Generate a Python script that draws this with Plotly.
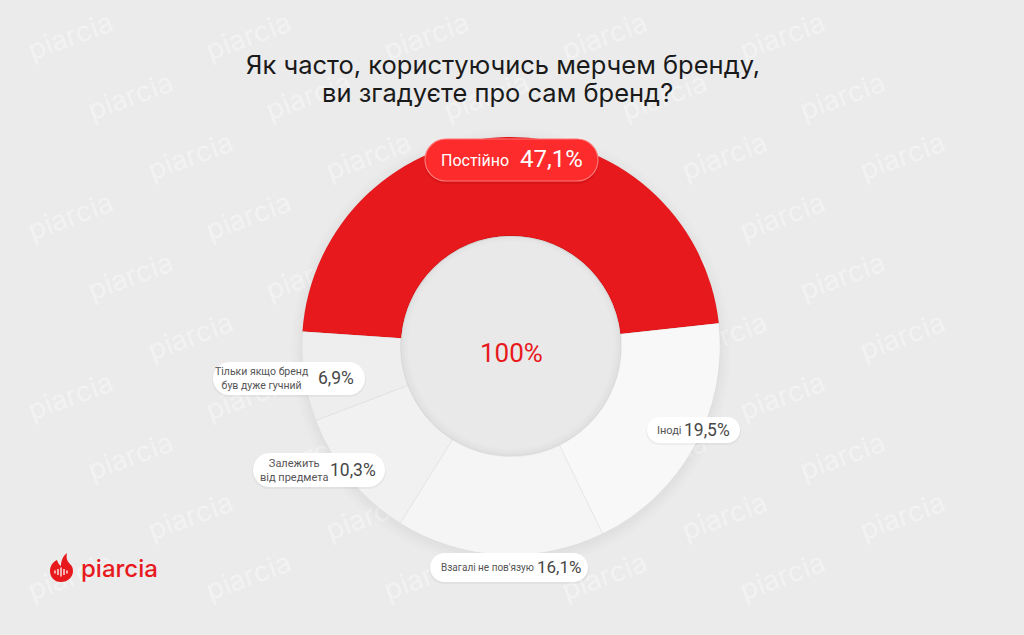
import plotly.graph_objects as go

# ---------------- data ----------------
title_lines = ["Як часто, користуючись мерчем бренду,", "ви згадуєте про сам бренд?"]
categories = ["Постійно", "Іноді", "Взагалі не пов'язую", "Залежить<br>від предмета",
              "Тільки якщо бренд<br>був дуже гучний"]
values = [47.1, 19.5, 16.1, 10.3, 6.9]
value_labels = ["47,1%", "19,5%", "16,1%", "10,3%", "6,9%"]
center_label = "100%"
brand = "piarcia"

# ---------------- styles / layout constants ----------------
W, H = 1024, 635
BG = "#ebebeb"
RED = "#e8191c"
slice_colors = [RED, "#f8f8f8", "#f5f5f5", "#f1f1f1", "#eeeeee"]
CX, CY, R_OUT, R_IN = 511, 346, 209, 110

# pill boxes (px): x0, y0, x1, y1 ; label anchor (x, y, xanchor) ; value right edge (x, y)
pills = [
    dict(box=(425, 139, 598, 181), lab=(439, 160, "left"), val=(585, 159), red=True, lsize=16, vsize=24),
    dict(box=(647, 417, 740, 443), lab=(655, 430, "left"), val=(732, 430), red=False, lsize=11, vsize=17.5),
    dict(box=(430, 553, 588, 582), lab=(439, 567, "left"), val=(583, 567), red=False, lsize=10, vsize=17),
    dict(box=(253, 453, 385, 487), lab=(294, 470, "center"), val=(378, 470), red=False, lsize=11, vsize=17.5),
    dict(box=(213, 362, 365, 395), lab=(262, 378, "center"), val=(356, 378), red=False, lsize=10.5, vsize=17.5),
]

FONT = "Roboto"


def px(x):
    return x / W


def py(y):
    return 1 - y / H


def pill_path(x0, y0, x1, y1):
    r = (y1 - y0) / 2
    k = 0.5523 * r
    cy = y0 + r
    pts = [
        ("M", [(x0 + r, y0)]),
        ("L", [(x1 - r, y0)]),
        ("C", [(x1 - r + k, y0), (x1, cy - k), (x1, cy)]),
        ("C", [(x1, cy + k), (x1 - r + k, y1), (x1 - r, y1)]),
        ("L", [(x0 + r, y1)]),
        ("C", [(x0 + r - k, y1), (x0, cy + k), (x0, cy)]),
        ("C", [(x0, cy - k), (x0 + r - k, y0), (x0 + r, y0)]),
    ]
    s = ""
    for cmd, ps in pts:
        s += cmd + " " + " ".join(f"{px(a):.5f},{py(b):.5f}" for a, b in ps) + " "
    return s + "Z"


fig = go.Figure()

fig.add_trace(go.Pie(
    labels=categories,
    values=values,
    sort=False,
    direction="clockwise",
    rotation=-86,
    hole=R_IN / R_OUT,
    marker=dict(colors=slice_colors, line=dict(color="rgba(0,0,0,0.035)", width=1)),
    textinfo="none",
    hoverinfo="none",
    showlegend=False,
    domain=dict(x=[px(CX - R_OUT), px(CX + R_OUT)], y=[py(CY + R_OUT), py(CY - R_OUT)]),
))

shapes = []
annotations = []

# watermark tiles (below everything), kept inside the canvas
for row in range(0, 11):
    for col in range(0, 6):
        x = col * 178 + (row % 3) * 60 + 70
        y = row * 60 + 35
        if x + 60 > W - 5 or y + 25 > H - 5:
            continue
        shapes.append(dict(
            type="rect", xref="paper", yref="paper", layer="below",
            x0=px(x - 60), x1=px(x + 60), y0=py(y + 20), y1=py(y - 20),
            line=dict(width=0), fillcolor="rgba(0,0,0,0)",
            label=dict(text=brand, textangle=-20,
                       font=dict(family="Inter", size=28, color="rgba(255,255,255,0.38)")),
        ))

# soft outer shadow of donut
for i, a in enumerate([0.012, 0.010, 0.008, 0.006]):
    rr = R_OUT + 2 + i * 3
    shapes.append(dict(type="circle", xref="paper", yref="paper", layer="below",
                       x0=px(CX - rr), x1=px(CX + rr), y0=py(CY + rr + 3), y1=py(CY - rr + 3),
                       fillcolor=f"rgba(0,0,0,{a})", line=dict(width=0)))

# inner hole shading
shapes.append(dict(type="circle", xref="paper", yref="paper",
                   x0=px(CX - R_IN), x1=px(CX + R_IN), y0=py(CY + R_IN), y1=py(CY - R_IN),
                   fillcolor="#e9e9e9", line=dict(color="rgba(0,0,0,0.05)", width=2)))
for i, a in enumerate([0.03, 0.02, 0.012]):
    rr = R_IN - 2 - i * 2
    shapes.append(dict(type="circle", xref="paper", yref="paper",
                       x0=px(CX - rr), x1=px(CX + rr), y0=py(CY + rr), y1=py(CY - rr - 2),
                       fillcolor="rgba(0,0,0,0)", line=dict(color=f"rgba(0,0,0,{a})", width=2)))

# pills + labels
for cat, val, p in zip(categories, value_labels, pills):
    x0, y0, x1, y1 = p["box"]
    if p["red"]:
        shapes.append(dict(type="path", xref="paper", yref="paper",
                           path=pill_path(x0 - 1, y0 + 1, x1 + 1, y1 + 3),
                           fillcolor="rgba(150,0,0,0.18)", line=dict(width=0)))
        shapes.append(dict(type="path", xref="paper", yref="paper", path=pill_path(x0, y0, x1, y1),
                           fillcolor="#fd2b2b", line=dict(color="#ff7a7a", width=1.2)))
        lc, vc = "#ffffff", "#ffffff"
    else:
        shapes.append(dict(type="path", xref="paper", yref="paper",
                           path=pill_path(x0 - 1, y0 + 1, x1 + 1, y1 + 2),
                           fillcolor="rgba(0,0,0,0.04)", line=dict(width=0)))
        shapes.append(dict(type="path", xref="paper", yref="paper", path=pill_path(x0, y0, x1, y1),
                           fillcolor="#ffffff", line=dict(width=0)))
        lc, vc = "#555555", "#474747"
    lx, ly, lalign = p["lab"]
    annotations.append(dict(text=cat, x=px(lx), y=py(ly), xref="paper", yref="paper",
                            xanchor=lalign, yanchor="middle", showarrow=False, align="center",
                            font=dict(family=FONT, size=p["lsize"], color=lc)))
    vx, vy = p["val"]
    annotations.append(dict(text=val, x=px(vx), y=py(vy), xref="paper", yref="paper",
                            xanchor="right", yanchor="middle", showarrow=False,
                            font=dict(family=FONT, size=p["vsize"], color=vc)))

# center label
annotations.append(dict(text=center_label, x=px(CX), y=py(353), xref="paper", yref="paper",
                        xanchor="center", yanchor="middle", showarrow=False,
                        font=dict(family=FONT, size=26, color=RED)))

# title
for txt, (tx, ty) in zip(title_lines, [(503, 64), (497, 92)]):
    annotations.append(dict(text=txt, x=px(tx), y=py(ty), xref="paper", yref="paper",
                            xanchor="center", yanchor="middle", showarrow=False,
                            font=dict(family="Inter", size=25.5, color="#1a1a1a")))

# logo
icon = ("M 61,582 C 54,582 50,577 50,571 C 50,566 53,562 57,560 C 58,563 59,565 61,566 "
        "C 61,561 63,556 67,553 C 66,558 67,561 70,564 C 72,566 73,568 73,571 C 73,577 68,582 61,582 Z")


def conv_path(s):
    out = []
    for tok in s.split(" "):
        if "," in tok:
            a, b = tok.split(",")
            out.append(f"{px(float(a)):.5f},{py(float(b)):.5f}")
        else:
            out.append(tok)
    return " ".join(out)


shapes.append(dict(type="path", xref="paper", yref="paper", path=conv_path(icon),
                   fillcolor=RED, line=dict(width=0)))
for bx, bh in zip([55, 58, 61, 64, 67], [3, 6, 9, 6, 3]):
    shapes.append(dict(type="line", xref="paper", yref="paper",
                       x0=px(bx), x1=px(bx), y0=py(572 - bh / 2), y1=py(572 + bh / 2),
                       line=dict(color="#ffffff", width=1.3)))
annotations.append(dict(text=brand, x=px(79), y=py(568), xref="paper", yref="paper",
                        xanchor="left", yanchor="middle", showarrow=False,
                        font=dict(family="Inter", size=24, color=RED, weight=500)))

fig.update_layout(
    width=W, height=H,
    margin=dict(l=0, r=0, t=0, b=0),
    paper_bgcolor=BG, plot_bgcolor=BG,
    shapes=shapes, annotations=annotations,
    showlegend=False,
)

fig.write_html("out.html", config={"displayModeBar": False},
               post_script="document.body.style.margin='0';document.body.style.background='#ebebeb';")
